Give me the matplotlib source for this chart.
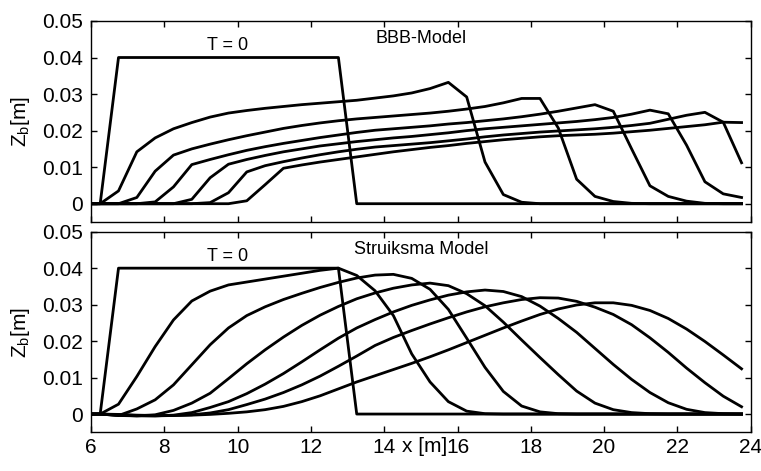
import matplotlib
matplotlib.use("Agg")
import matplotlib.pyplot as plt

plt.rcParams["font.family"] = ["Liberation Sans", "DejaVu Sans"]
plt.rcParams["mathtext.default"] = "regular"

# Streamwise positions of the computed bed levels [m]
x = [6.0, 6.25, 6.75, 7.25, 7.75, 8.25, 8.75, 9.25, 9.75, 10.25, 10.75, 11.25,
     11.75, 12.25, 12.75, 13.25, 13.75, 14.25, 14.75, 15.25, 15.75, 16.25,
     16.75, 17.25, 17.75, 18.25, 18.75, 19.25, 19.75, 20.25, 20.75, 21.25,
     21.75, 22.25, 22.75, 23.25, 23.75]

# Initial trapezoidal hump (T = 0)
zb_t0 = [0, 0, 0.04, 0.04, 0.04, 0.04, 0.04, 0.04, 0.04, 0.04, 0.04, 0.04,
         0.04, 0.04, 0.04, 0, 0, 0, 0, 0, 0, 0, 0, 0, 0, 0, 0, 0, 0, 0, 0, 0,
         0, 0, 0, 0, 0]

# BBB-Model bed levels at successive times
bbb_1 = [0, 0, .0035, .0142, .0180, .0205, .0222, .0237, .0248, .0255, .0261,
         .0266, .0271, .0275, .0279, .0283, .0289, .0295, .0303, .0315, .0332,
         .0292, .0114, .0025, .0004, 0, 0, 0, 0, 0, 0, 0, 0, 0, 0, 0, 0]
bbb_2 = [0, 0, 0, .0017, .0089, .0133, .0150, .0163, .0175, .0186, .0196,
         .0206, .0214, .0221, .0227, .0232, .0236, .0240, .0244, .0248, .0253,
         .0259, .0266, .0276, .0288, .0288, .0207, .0067, .0020, .0006, .0001,
         0, 0, 0, 0, 0, 0]
bbb_3 = [0, 0, 0, 0, .0005, .0046, .0107, .0121, .0134, .0146, .0156, .0165,
         .0173, .0181, .0188, .0195, .0201, .0205, .0209, .0213, .0218, .0222,
         .0227, .0232, .0238, .0245, .0253, .0262, .0271, .0253, .0150, .0049,
         .0020, .0007, .0001, 0, 0]
bbb_4 = [0, 0, 0, 0, 0, 0, .0012, .0071, .0108, .0121, .0132, .0142, .0150,
         .0158, .0164, .0170, .0175, .0180, .0184, .0189, .0194, .0200, .0205,
         .0209, .0213, .0217, .0221, .0225, .0230, .0236, .0245, .0256, .0246,
         .0160, .0060, .0027, .0017]
bbb_5 = [0, 0, 0, 0, 0, 0, 0, .0003, .0030, .0087, .0104, .0115, .0125,
         .0134, .0142, .0149, .0155, .0159, .0163, .0167, .0172, .0177, .0183,
         .0188, .0192, .0196, .0199, .0202, .0205, .0209, .0214, .0220, .0231,
         .0242, .0250, .0223, .0112]
bbb_6 = [0, 0, 0, 0, 0, 0, 0, 0, 0, .0008, .0052, .0097, .0106, .0114, .0121,
         .0128, .0135, .0142, .0148, .0154, .0159, .0165, .0170, .0175, .0179,
         .0183, .0186, .0188, .0190, .0193, .0197, .0201, .0206, .0211, .0216,
         .0223, .0222]

# Struiksma Model bed levels at successive times
str_1 = [0, 0, .0027, .0103, .0185, .0258, .0310, .0337, .0354, .0362, .0370,
         .0378, .0386, .0394, .0400, .0380, .0338, .0270, .0165, .0088, .0034,
         .0008, .0001, 0, 0, 0, 0, 0, 0, 0, 0, 0, 0, 0, 0, 0, 0]
str_2 = [0, 0, -.0004, .0014, .0039, .0080, .0135, .0190, .0236, .0270, .0294,
         .0314, .0331, .0347, .0361, .0373, .0381, .0383, .0372, .0342, .0287,
         .0208, .0128, .0062, .0022, .0006, .0001, 0, 0, 0, 0, 0, 0, 0, 0, 0, 0]
str_3 = [0, 0, -.0004, -.0005, -.0002, .0010, .0030, .0057, .0097, .0138,
         .0176, .0211, .0243, .0271, .0295, .0316, .0332, .0345, .0354, .0359,
         .0352, .0330, .0297, .0252, .0203, .0155, .0108, .0063, .0030, .0012,
         .0004, .0001, 0, 0, 0, 0, 0]
str_4 = [0, 0, -.0003, -.0005, -.0005, -.0003, .0004, .0018, .0034, .0056,
         .0082, .0111, .0143, .0176, .0208, .0236, .0259, .0280, .0298, .0313,
         .0326, .0335, .0340, .0336, .0322, .0296, .0262, .0224, .0180, .0136,
         .0095, .0059, .0031, .0013, .0004, .0001, 0]
str_5 = [0, 0, -.0002, -.0004, -.0005, -.0004, -.0002, .0003, .0012, .0026,
         .0041, .0059, .0080, .0104, .0131, .0159, .0188, .0210, .0229, .0247,
         .0264, .0280, .0294, .0305, .0314, .0319, .0318, .0309, .0293, .0273,
         .0245, .0209, .0169, .0126, .0086, .0049, .0020]
str_6 = [0, 0, -.0001, -.0003, -.0004, -.0004, -.0003, -.0001, .0002, .0006,
         .0012, .0021, .0034, .0050, .0069, .0088, .0105, .0122, .0139, .0157,
         .0176, .0196, .0216, .0236, .0255, .0273, .0288, .0299, .0305, .0305,
         .0298, .0284, .0262, .0233, .0199, .0162, .0124]

xticks = [6, 8, 10, 12, 14, 16, 18, 20, 22, 24]
xtick_labels = ["6", "8", "10", "12", "14", "16", "18", "20", "22", "24"]
yticks = [0, 0.01, 0.02, 0.03, 0.04, 0.05]
ytick_labels = ["0", "0.01", "0.02", "0.03", "0.04", "0.05"]

panels = [
    ("BBB-Model", [zb_t0, bbb_1, bbb_2, bbb_3, bbb_4, bbb_5, bbb_6]),
    ("Struiksma Model", [zb_t0, str_1, str_2, str_3, str_4, str_5, str_6]),
]

fig = plt.figure(figsize=(7.61, 4.71), dpi=100)
ax_top = fig.add_axes([0.1196, 0.5287, 0.8669, 0.4268])
ax_bot = fig.add_axes([0.1196, 0.0822, 0.8669, 0.4259])

tick_fs = 15
label_fs = 15
note_fs = 13
for ax, (title, curves) in zip([ax_top, ax_bot], panels):
    for zb in curves:
        ax.plot(x, zb, color="black", lw=2.0)
    ax.set_xlim(6, 24)
    ax.set_ylim(-0.005, 0.05)
    ax.set_xticks(xticks)
    ax.set_yticks(yticks)
    ax.set_yticklabels(ytick_labels)
    ax.tick_params(direction="in", top=True, right=True, length=4.5,
                   width=1.0, pad=6, labelsize=tick_fs)
    ax.tick_params(axis="x", pad=4)
    for sp in ax.spines.values():
        sp.set_linewidth(1.0)
    ax.set_ylabel("Z$_b$[m]", fontsize=label_fs)
    ax.yaxis.set_label_coords(-0.089, 0.5)
    ax.text(9.72, 0.0433, "T = 0", fontsize=note_fs, ha="center", va="center")
    ax.text(15.0, 0.0452, title, fontsize=note_fs, ha="center", va="center")

ax_top.set_xticklabels([])
ax_bot.set_xticklabels(xtick_labels)
ax_bot.set_xlabel("x [m]", fontsize=label_fs)
ax_bot.xaxis.set_label_coords(0.505, -0.025)

fig.savefig("out.png", dpi=100)
